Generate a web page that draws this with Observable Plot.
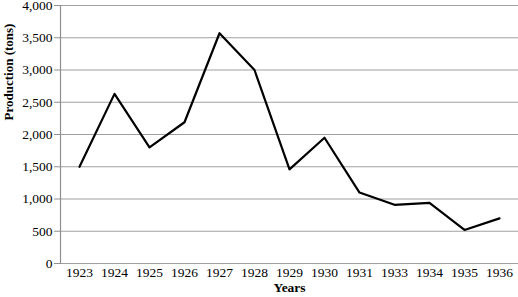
<!DOCTYPE html>
<html><head><meta charset="utf-8">
<script src="https://cdn.jsdelivr.net/npm/d3@7"></script>
<script src="https://cdn.jsdelivr.net/npm/@observablehq/plot@0.6"></script>
<style>body{margin:0;background:#fff;} svg{display:block;} svg, svg text{font-family:"Liberation Serif","Times New Roman",serif !important;}</style>
</head><body><div id="chart"></div>
<script>
const years = ["1923","1924","1925","1926","1927","1928","1929","1930","1931","1933","1934","1935","1936"];
const production = [1500,2630,1800,2190,3570,3000,1460,1950,1100,910,940,520,700];
const yTicks = [0,500,1000,1500,2000,2500,3000,3500,4000];
const data = years.map((y,i)=>({year:y, value:production[i]}));
const fmt = d3.format(",");
const chart = Plot.plot({
  width: 518, height: 297,
  marginLeft: 60, marginRight: 0, marginTop: 5, marginBottom: 34,
  style: {fontFamily: "'Liberation Serif', 'Times New Roman', serif", fontSize: "13.5px", color: "#000", background: "#fff"},
  x: {type: "point", domain: years, padding: 0.5, label: null},
  y: {domain: [0,4000], label: null},
  marks: [
    Plot.ruleY(yTicks, {stroke: "#a0a0a0", strokeWidth: 1.2}),
    Plot.frame({anchor: "left", stroke: "#909090", strokeWidth: 1.2}),
    Plot.axisY(yTicks, {tickSize: 6, tickPadding: 2, tickFormat: fmt, stroke: "#909090", fontSize: 13.5, label: null}),
    Plot.axisX({tickSize: 0, tickPadding: 4, fontSize: 13.5, label: null}),
    Plot.line(data, {x: "year", y: "value", stroke: "#000", strokeWidth: 2.2}),
    Plot.text(["Production (tons)"], {frameAnchor: "left", dx: -52, dy: -14, rotate: -90, fontWeight: "bold", fontSize: 13}),
    Plot.text(["Years"], {frameAnchor: "bottom", dy: 28, fontWeight: "bold", fontSize: 13.5})
  ]
});
document.getElementById("chart").append(chart);
</script></body></html>
